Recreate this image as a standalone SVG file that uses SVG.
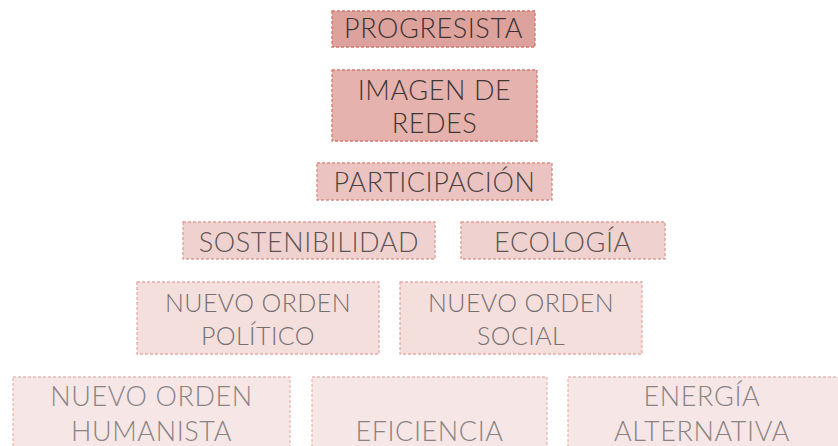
<svg xmlns="http://www.w3.org/2000/svg" width="838" height="446" viewBox="0 0 838 446">
<style>
text{font-family:Lato,"Noto Sans",sans-serif;font-weight:300;font-size:27px;letter-spacing:0.6px;text-anchor:middle}
rect{stroke-width:1.3;stroke-dasharray:3 2}
.l1 rect{fill:#dea29d;stroke:#d9736b}.l1 text{fill:#3a3333}
.l2 rect{fill:#e5b2ad;stroke:#d9776f}.l2 text{fill:#3d3636}
.l3 rect{fill:#ebc4c1;stroke:#dc8a84}.l3 text{fill:#4a4242}
.l4 rect{fill:#efd2cf;stroke:#df9d97}.l4 text{fill:#5c5454}
.l5 rect{fill:#f4dfdd;stroke:#e4aca7}.l5 text{fill:#777070;font-size:25px;letter-spacing:0.4px}
.l6 rect{fill:#f6e7e6;stroke:#eab9b4}.l6 text{fill:#898383}
</style>
<g id="progresista" class="l1"><rect x="332" y="11" width="203" height="36"/><text x="433.5" y="38">PROGRESISTA</text></g>
<g id="imagen" class="l2"><rect x="332" y="70" width="205" height="71"/><text x="434.5" y="100">IMAGEN DE</text><text x="434.5" y="133">REDES</text></g>
<g id="participacion" class="l3"><rect x="317" y="163" width="235" height="37"/><text x="434.5" y="192">PARTICIPACIÓN</text></g>
<g id="sostenibilidad" class="l4"><rect x="183" y="222" width="252" height="37"/><text x="309" y="252">SOSTENIBILIDAD</text></g>
<g id="ecologia" class="l4"><rect x="461" y="222" width="204" height="37"/><text x="563" y="252">ECOLOGÍA</text></g>
<g id="politico" class="l5"><rect x="137" y="282" width="242" height="72"/><text x="258" y="312">NUEVO ORDEN</text><text x="258" y="345">POLÍTICO</text></g>
<g id="social" class="l5"><rect x="400" y="282" width="242" height="72"/><text x="521" y="312">NUEVO ORDEN</text><text x="521" y="345">SOCIAL</text></g>
<g id="humanista" class="l6"><rect x="13" y="377" width="277" height="80"/><text x="151.5" y="406">NUEVO ORDEN</text><text x="151.5" y="441">HUMANISTA</text></g>
<g id="eficiencia" class="l6"><rect x="312" y="377" width="235" height="80"/><text x="429.5" y="441">EFICIENCIA</text></g>
<g id="energia" class="l6"><rect x="568" y="377" width="280" height="80"/><text x="702" y="406">ENERGÍA</text><text x="702" y="441">ALTERNATIVA</text></g>
<g id="connectors"/>
</svg>
